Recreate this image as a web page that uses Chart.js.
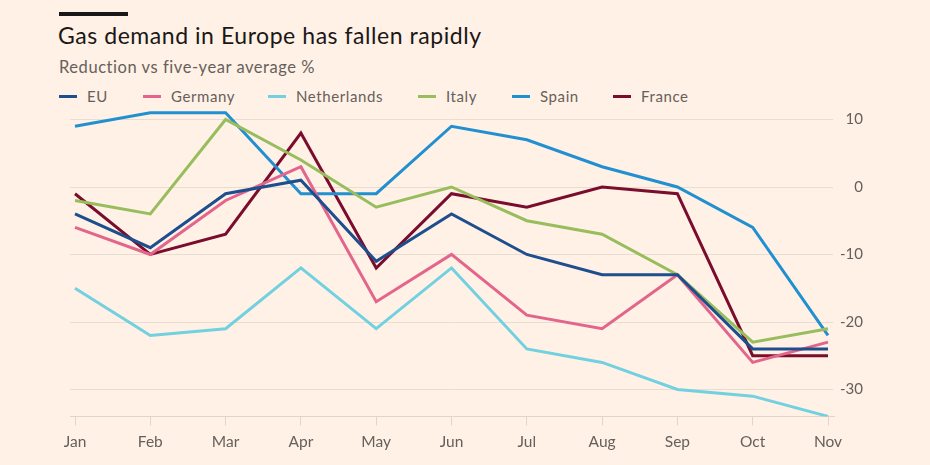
<!DOCTYPE html>
<html>
<head>
<meta charset="utf-8">
<script src="https://cdn.jsdelivr.net/npm/chart.js@4/dist/chart.umd.min.js"></script>
<style>
  body { margin: 0; background: #fff1e5; font-family: Lato, "Open Sans", sans-serif; }
  #wrap { position: relative; width: 930px; height: 465px; overflow: hidden; }
  #bar { position: absolute; left: 59px; top: 12px; width: 69px; height: 4px; background: #1a1817; }
  #title { position: absolute; left: 58px; top: 21px; font-size: 23px; letter-spacing: 0.55px; color: #1a1817; white-space: nowrap; }
  #subtitle { position: absolute; left: 59px; top: 57px; font-size: 16.5px; letter-spacing: 0.55px; color: #66605c; white-space: nowrap; }
  #legend { position: absolute; left: 59px; top: 87px; display: flex; font-size: 15px; letter-spacing: 0.6px; color: #66605c; white-space: nowrap; }
  .item { display: flex; align-items: center; }
  .swatch { width: 18px; height: 3px; margin-right: 10px; }
  canvas { position: absolute; left: 0; top: 0; }
</style>
</head>
<body>
<div id="wrap">
  <div id="bar"></div>
  <div id="title">Gas demand in Europe has fallen rapidly</div>
  <div id="subtitle">Reduction vs five-year average %</div>
  <div id="legend"></div>
  <canvas id="chart" width="930" height="465"></canvas>
</div>
<script>
const months = ['Jan', 'Feb', 'Mar', 'Apr', 'May', 'Jun', 'Jul', 'Aug', 'Sep', 'Oct', 'Nov'];
const yTicks = [10, 0, -10, -20, -30];

const eu          = [-4, -9, -1, 1, -11, -4, -10, -13, -13, -24, -24];
const germany     = [-6, -10, -2, 3, -17, -10, -19, -21, -13, -26, -23];
const netherlands = [-15, -22, -21, -12, -21, -12, -24, -26, -30, -31, -34];
const italy       = [-2, -4, 10, 4, -3, 0, -5, -7, -13, -23, -21];
const spain       = [9, 11, 11, -1, -1, 9, 7, 3, 0, -6, -22];
const france      = [-1, -10, -7, 8, -12, -1, -3, 0, -1, -25, -25];

const series = [
  { label: 'EU', data: eu, color: '#1d4f8e' },
  { label: 'Germany', data: germany, color: '#e3658c' },
  { label: 'Netherlands', data: netherlands, color: '#72d0e0' },
  { label: 'Italy', data: italy, color: '#97bd5c' },
  { label: 'Spain', data: spain, color: '#2290d0' },
  { label: 'France', data: france, color: '#7a0d2e' },
];

// legend items start where the reference puts them
const legendX = [59, 143, 268, 418, 512, 613];
const legend = document.getElementById('legend');
series.forEach((s, i) => {
  const item = document.createElement('div');
  item.className = 'item';
  item.style.position = 'absolute';
  item.style.left = (legendX[i] - 59) + 'px';
  item.innerHTML = '<span class="swatch" style="background:' + s.color + '"></span>' + s.label;
  legend.appendChild(item);
});

const gridColor = '#e9ddd2';

// y gridlines stretch a little past the first and last month
const wideGrid = {
  id: 'wideGrid',
  beforeDatasetsDraw(chart) {
    const ctx = chart.ctx;
    const area = chart.chartArea;
    const y = chart.scales.y;
    ctx.save();
    ctx.strokeStyle = gridColor;
    ctx.lineWidth = 1;
    yTicks.forEach(v => {
      const py = Math.round(y.getPixelForValue(v)) + 0.5;
      ctx.beginPath();
      ctx.moveTo(area.left - 5, py);
      ctx.lineTo(area.right + 5, py);
      ctx.stroke();
    });
    // bottom axis line
    const by = Math.round(area.bottom) + 0.5;
    ctx.strokeStyle = '#e2d4c8';
    ctx.beginPath();
    ctx.moveTo(area.left - 5, by);
    ctx.lineTo(area.right + 7, by);
    ctx.stroke();
    ctx.restore();
  }
};

new Chart(document.getElementById('chart'), {
  type: 'line',
  data: {
    labels: months,
    datasets: series.map(s => ({
      label: s.label,
      data: s.data,
      borderColor: s.color,
      backgroundColor: s.color,
      borderWidth: 3,
      pointRadius: 0,
      tension: 0,
      fill: false,
    })),
  },
  options: {
    responsive: false,
    animation: false,
    layout: { padding: { left: 75, right: 67, top: 106, bottom: 7 } },
    plugins: { legend: { display: false }, tooltip: { enabled: false } },
    scales: {
      x: {
        offset: false,
        grid: { drawOnChartArea: false, drawTicks: true, tickLength: 9, color: '#e2d4c8' },
        border: { display: false },
        ticks: { color: '#66605c', font: { family: 'Lato', size: 15.5 }, padding: 7, maxRotation: 0, autoSkip: false },
      },
      y: {
        position: 'right',
        min: -34,
        max: 12,
        afterBuildTicks: axis => { axis.ticks = yTicks.map(v => ({ value: v })); },
        afterFit: axis => { axis.width = 35; },
        grid: { display: false },
        border: { display: false },
        ticks: { color: '#66605c', font: { family: 'Lato', size: 15 }, padding: 10, crossAlign: 'far' },
      },
    },
  },
  plugins: [wideGrid],
});
</script>
</body>
</html>
